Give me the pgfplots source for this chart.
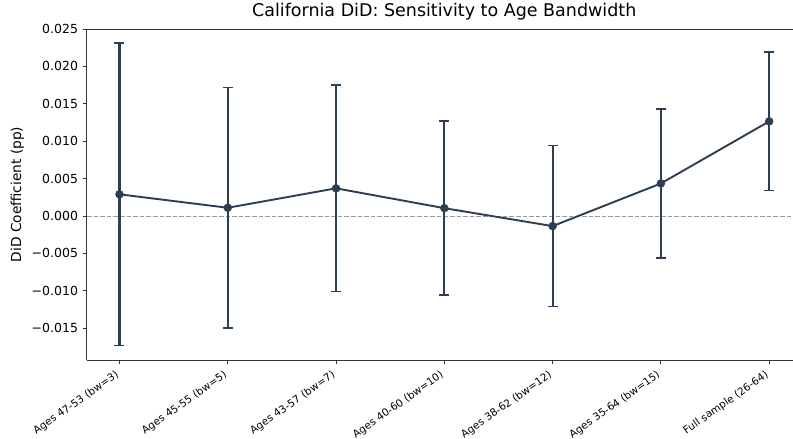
\documentclass[border=0pt]{standalone}
\usepackage{fontspec}
\setmainfont{DejaVu Sans}
\usepackage{pgfplots}
\pgfplotsset{compat=1.18}
\definecolor{ln}{HTML}{2C3E50}
\definecolor{spine}{HTML}{333333}
\begin{document}
\begin{tikzpicture}
\begin{axis}[
  scale only axis, width=706pt, height=331pt,
  xmin=-0.3, xmax=6.22, ymin=-0.01925, ymax=0.025,
  axis x line*=bottom, axis y line*=left,
  axis line style={spine, line width=1pt},
  clip=false,
  scaled y ticks=false,
  xtick={0,1,2,3,4,5,6},
  xticklabels={Ages 47-53 (bw=3), Ages 45-55 (bw=5), Ages 43-57 (bw=7), Ages 40-60 (bw=10), Ages 38-62 (bw=12), Ages 35-64 (bw=15), Full sample (26-64)},
  ytick={-0.015,-0.01,-0.005,0,0.005,0.01,0.015,0.02,0.025},
  yticklabels={−0.015,−0.010,−0.005,0.000,0.005,0.010,0.015,0.020,0.025},
  tick align=outside, major tick length=4.4pt,
  tick style={spine, line width=1pt},
  yticklabel style={font=\fontsize{12.5}{14}\selectfont, inner sep=0pt, xshift=-4.4pt},
  xticklabel style={font=\fontsize{10.4}{12}\selectfont, rotate=35, anchor=north east, inner sep=0pt, yshift=-1.6pt, xshift=-7pt},
  ylabel={DiD Coefficient (pp)},
  ylabel style={font=\fontsize{13.75}{16}\selectfont, at={(axis description cs:-0.089,0.5)}, anchor=south, inner sep=0pt},
  title={California DiD: Sensitivity to Age Bandwidth},
  title style={font=\fontsize{17.5}{20}\selectfont, at={(axis description cs:0.506,1)}, anchor=base, yshift=6.3pt, inner sep=0pt},
]
\coordinate (BL) at (rel axis cs:0,0);
\coordinate (TR) at (rel axis cs:1,1);
\draw[spine, line width=1pt] (rel axis cs:0,1) -- (rel axis cs:1,1);
\addplot[black!40, line width=1pt, dash pattern=on 4.6pt off 2pt, forget plot] coordinates {(-0.3,0) (6.22,0)};
\addplot[ln, line width=1.9pt, mark=*, mark size=4pt,
  mark options={solid, fill=ln, draw=ln, line width=0.4pt},
  error bars/.cd, y dir=both, y explicit,
  error bar style={line width=2.1pt, ln},
  error mark options={rotate=90, mark size=5pt, line width=1.6pt, ln}]
  table[x=x, y=y, y error=e] {
x y e
0 0.0029 0.0202
1 0.0011 0.0161
2 0.0037 0.0138
3 0.00105 0.01165
4 -0.00135 0.01075
5 0.00435 0.00995
6 0.01265 0.00925
};
\end{axis}
\pgfresetboundingbox
\path[use as bounding box] ([xshift=-87pt,yshift=-79pt]BL) rectangle ([yshift=29pt]TR);
\end{tikzpicture}
\end{document}
